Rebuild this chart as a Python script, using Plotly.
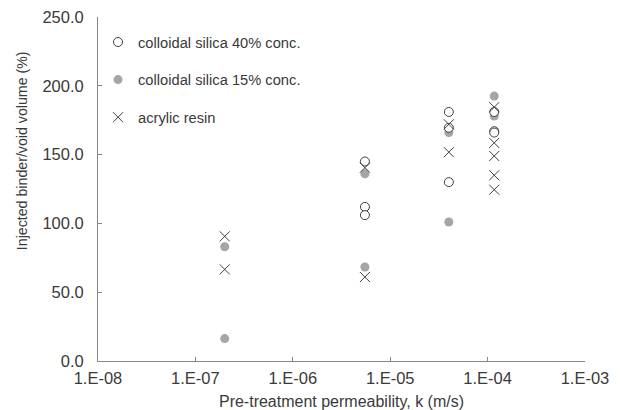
import plotly.graph_objects as go

# Data
k_silica40 = [5.5e-6, 5.5e-6, 5.5e-6, 4.0e-5, 4.0e-5, 4.0e-5, 1.17e-4, 1.17e-4, 1.17e-4]
v_silica40 = [145.0, 112.0, 106.0, 181.0, 169.5, 130.0, 181.0, 167.0, 166.0]

k_silica15 = [2.0e-7, 2.0e-7, 5.5e-6, 5.5e-6, 4.0e-5, 4.0e-5, 1.17e-4, 1.17e-4]
v_silica15 = [83.0, 16.3, 136.0, 68.3, 166.0, 101.0, 192.5, 178.0]

k_acrylic = [2.0e-7, 2.0e-7, 5.5e-6, 5.5e-6, 4.0e-5, 4.0e-5, 1.17e-4, 1.17e-4, 1.17e-4, 1.17e-4, 1.17e-4]
v_acrylic = [90.6, 66.6, 140.5, 61.0, 172.0, 151.8, 184.5, 158.5, 149.0, 135.0, 124.5]

x_tickvals = [1e-8, 1e-7, 1e-6, 1e-5, 1e-4, 1e-3]
x_ticktext = ["1.E-08", "1.E-07", "1.E-06", "1.E-05", "1.E-04", "1.E-03"]
y_tickvals = [0, 50, 100, 150, 200, 250]
y_ticktext = ["0.0", "50.0", "100.0", "150.0", "200.0", "250.0"]

TXT = "#3a3a3a"
FONT = "Liberation Sans, Arial, sans-serif"

fig = go.Figure()
fig.add_trace(go.Scatter(
    x=k_silica15, y=v_silica15, mode="markers", name="colloidal silica 15% conc.",
    marker=dict(symbol="circle", size=9, color="#a5a5a5", line=dict(width=0)),
    legendrank=2, legendgroup="b"))
fig.add_trace(go.Scatter(
    x=k_silica40, y=v_silica40, mode="markers", name="colloidal silica 40% conc.",
    marker=dict(symbol="circle", size=9, color="white", line=dict(width=1, color="#404040")),
    legendrank=1, legendgroup="a"))
fig.add_trace(go.Scatter(
    x=k_acrylic, y=v_acrylic, mode="markers", name="acrylic resin",
    marker=dict(symbol="x-thin", size=10, line=dict(width=1, color="#404040")),
    legendrank=3, legendgroup="c"))

# page body adds an 8px offset, so the figure is 8px smaller and margins compensate
fig.update_layout(
    width=613, height=402,
    margin=dict(l=90, r=36, t=9, b=49, autoexpand=False),
    paper_bgcolor="white", plot_bgcolor="white",
    font=dict(family=FONT, color=TXT, size=16),
    showlegend=True,
    legend=dict(x=0.0, y=0.974, xanchor="left", yanchor="top",
                font=dict(size=14.7, color=TXT), bgcolor="rgba(0,0,0,0)",
                tracegroupgap=15.5, itemwidth=30),
    xaxis=dict(type="log", range=[-8, -3], tickvals=x_tickvals, ticktext=x_ticktext,
               showgrid=False, zeroline=False, showline=True, linecolor="#868686", linewidth=1,
               ticks="inside", ticklen=4, tickcolor="#868686", automargin=False,
               ticklabeloverflow="allow", ticklabelstandoff=2,
               title=dict(text="Pre-treatment permeability, k (m/s)", font=dict(size=16), standoff=10),
               tickfont=dict(size=16.5)),
    yaxis=dict(range=[0, 250], tickvals=y_tickvals, ticktext=y_ticktext,
               showgrid=False, zeroline=False, showline=True, linecolor="#868686", linewidth=1,
               ticks="inside", ticklen=4, tickcolor="#868686", automargin=False,
               ticklabelstandoff=10, ticklabeloverflow="allow",
               tickfont=dict(size=16.5)),
    annotations=[dict(text="Injected binder/void volume (%)", xref="paper", yref="paper",
                      x=-0.156, y=0.61, textangle=-90, showarrow=False,
                      xanchor="center", yanchor="middle", font=dict(size=14.2, color=TXT))],
)
fig.write_html("out.html")
